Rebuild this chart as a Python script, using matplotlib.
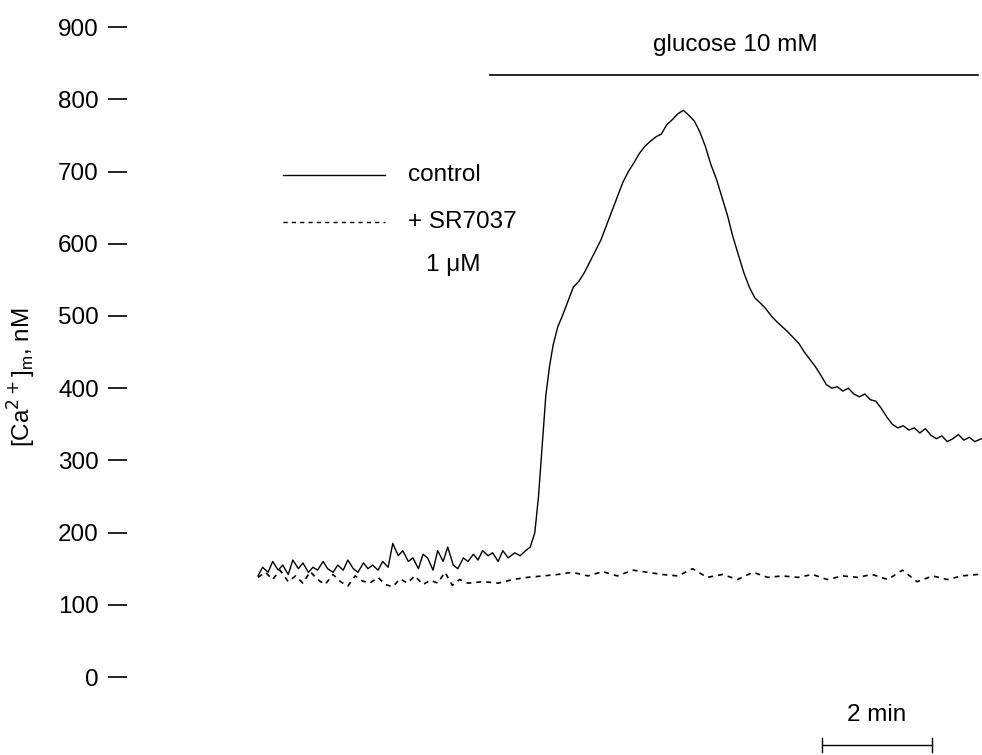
import matplotlib.pyplot as plt

plt.rcParams['font.family'] = ['Liberation Sans', 'DejaVu Sans']

# time in s, [Ca2+]m in nM
control_t = [0, 5, 11, 16, 22, 27, 33, 38, 44, 49, 55, 60, 65, 71, 76, 82, 87, 93, 98, 104,
             109, 115, 120, 125, 131, 136, 142, 147, 153, 158, 164, 169, 175, 180, 185, 191,
             196, 202, 207, 213, 218, 224, 229, 235, 240, 245, 251, 256, 262, 267, 273, 280,
             286, 292, 297, 302, 306, 310, 314, 318, 322, 327, 332, 338, 344, 350, 356, 362,
             368, 374, 380, 386, 392, 398, 404, 410, 416, 422, 428, 434, 440, 446, 452, 458,
             464, 470, 476, 482, 488, 494, 500, 506, 512, 518, 524, 530, 536, 542, 548, 554,
             560, 566, 572, 578, 584, 590, 596, 602, 608, 614, 620, 626, 632, 638, 644, 650,
             656, 662, 668, 674, 680, 686, 692, 698, 704, 710, 716, 722, 728, 734, 740, 746,
             752, 758, 764, 770, 776, 782, 789]
control = [140, 152, 145, 160, 148, 155, 142, 162, 150, 158, 145, 152, 148, 160, 150, 145,
           155, 148, 162, 150, 145, 158, 150, 155, 148, 160, 152, 185, 168, 175, 160, 165,
           150, 170, 165, 148, 175, 160, 180, 155, 150, 165, 160, 170, 162, 175, 168, 172,
           160, 175, 165, 172, 168, 175, 180, 200, 250, 320, 390, 430, 460, 485, 500, 520,
           540, 548, 560, 575, 590, 605, 625, 645, 665, 685, 700, 712, 725, 735, 742, 748,
           752, 765, 772, 780, 785, 778, 770, 755, 735, 710, 690, 665, 640, 610, 585, 560,
           540, 525, 518, 510, 500, 492, 485, 478, 470, 462, 450, 440, 430, 418, 405, 400,
           402, 396, 400, 392, 388, 392, 384, 382, 372, 360, 350, 345, 348, 342, 345, 338,
           344, 335, 330, 334, 326, 330, 336, 328, 332, 326, 330, 334, 328, 333, 330, 332,
           338, 332, 335][:139]

sr_t = [0, 8, 16, 24, 33, 41, 49, 57, 65, 73, 82, 90, 98, 106, 114, 122, 131, 139, 147, 155,
        163, 171, 180, 188, 196, 204, 212, 220, 229, 245, 262, 278, 294, 311, 327, 343, 360,
        376, 392, 409, 425, 441, 458, 474, 490, 507, 523, 540, 556, 572, 589, 605, 621, 638,
        654, 670, 687, 703, 719, 736, 752, 768, 785, 789]
sr7037 = [138, 145, 135, 148, 132, 140, 130, 146, 135, 128, 142, 132, 126, 140, 133, 130,
          138, 128, 125, 136, 130, 140, 128, 134, 130, 145, 127, 135, 130, 132, 130, 135,
          138, 140, 142, 145, 140, 146, 140, 148, 145, 142, 140, 150, 138, 142, 135, 145,
          138, 140, 138, 142, 135, 140, 138, 142, 135, 148, 132, 140, 135, 140, 142, 138]

yticks = [0, 100, 200, 300, 400, 500, 600, 700, 800, 900]

W, H = 982, 755
FS = 17.5
fig = plt.figure(figsize=(9.82, 7.55), dpi=100)
# axes spans pixel 108..982 horizontally, full height
ax = fig.add_axes([108 / W, 0, (W - 108) / W, 1])
s = 120 / 110  # seconds per pixel
ax.set_xlim((108 - 258) * s, (982 - 258) * s)
ax.set_ylim((677 - 755) / 0.722, 677 / 0.722)

ax.plot(control_t, control, color='black', lw=1.0)
ax.plot(sr_t, sr7037, color='black', lw=1.2, ls=(0, (3, 3)))

for side in ['top', 'right', 'bottom', 'left']:
    ax.spines[side].set_visible(False)
ax.set_xticks([])
ax.set_yticks(yticks)
ax.tick_params(axis='y', direction='in', length=14, width=1.2, pad=-1,
               labelsize=FS)
for lab in ax.get_yticklabels():
    lab.set_x(-0.012)
ax.set_ylabel('[Ca$^{2+}$]$_\\mathregular{m}$, nM', fontsize=FS)
ax.yaxis.set_label_coords(-70 / (W - 108), 0.5)


def fx(px):
    return px / W


def fy(py):
    return 1 - py / H


# glucose bar
fig.add_artist(plt.Line2D([fx(490), fx(978)], [fy(75), fy(75)], color='black', lw=1.2))
fig.text(fx(735), fy(45), 'glucose 10 mM', ha='center', va='center', fontsize=FS)

# legend
fig.add_artist(plt.Line2D([fx(283), fx(385)], [fy(175), fy(175)], color='black', lw=1.0))
fig.add_artist(plt.Line2D([fx(283), fx(385)], [fy(222), fy(222)], color='black', lw=1.0,
                          ls=(0, (3, 3))))
fig.text(fx(408), fy(175), 'control', va='center', fontsize=FS)
fig.text(fx(408), fy(222), '+ SR7037', va='center', fontsize=FS)
fig.text(fx(426), fy(265), '1 μM', va='center', fontsize=FS)

# scale bar
fig.add_artist(plt.Line2D([fx(822), fx(932)], [fy(745), fy(745)], color='black', lw=1.0))
for px in [822, 932]:
    fig.add_artist(plt.Line2D([fx(px), fx(px)], [fy(738), fy(752)], color='black', lw=1.0))
fig.text(fx(877), fy(715), '2 min', ha='center', va='center', fontsize=FS)

fig.savefig('out.png', dpi=100)
